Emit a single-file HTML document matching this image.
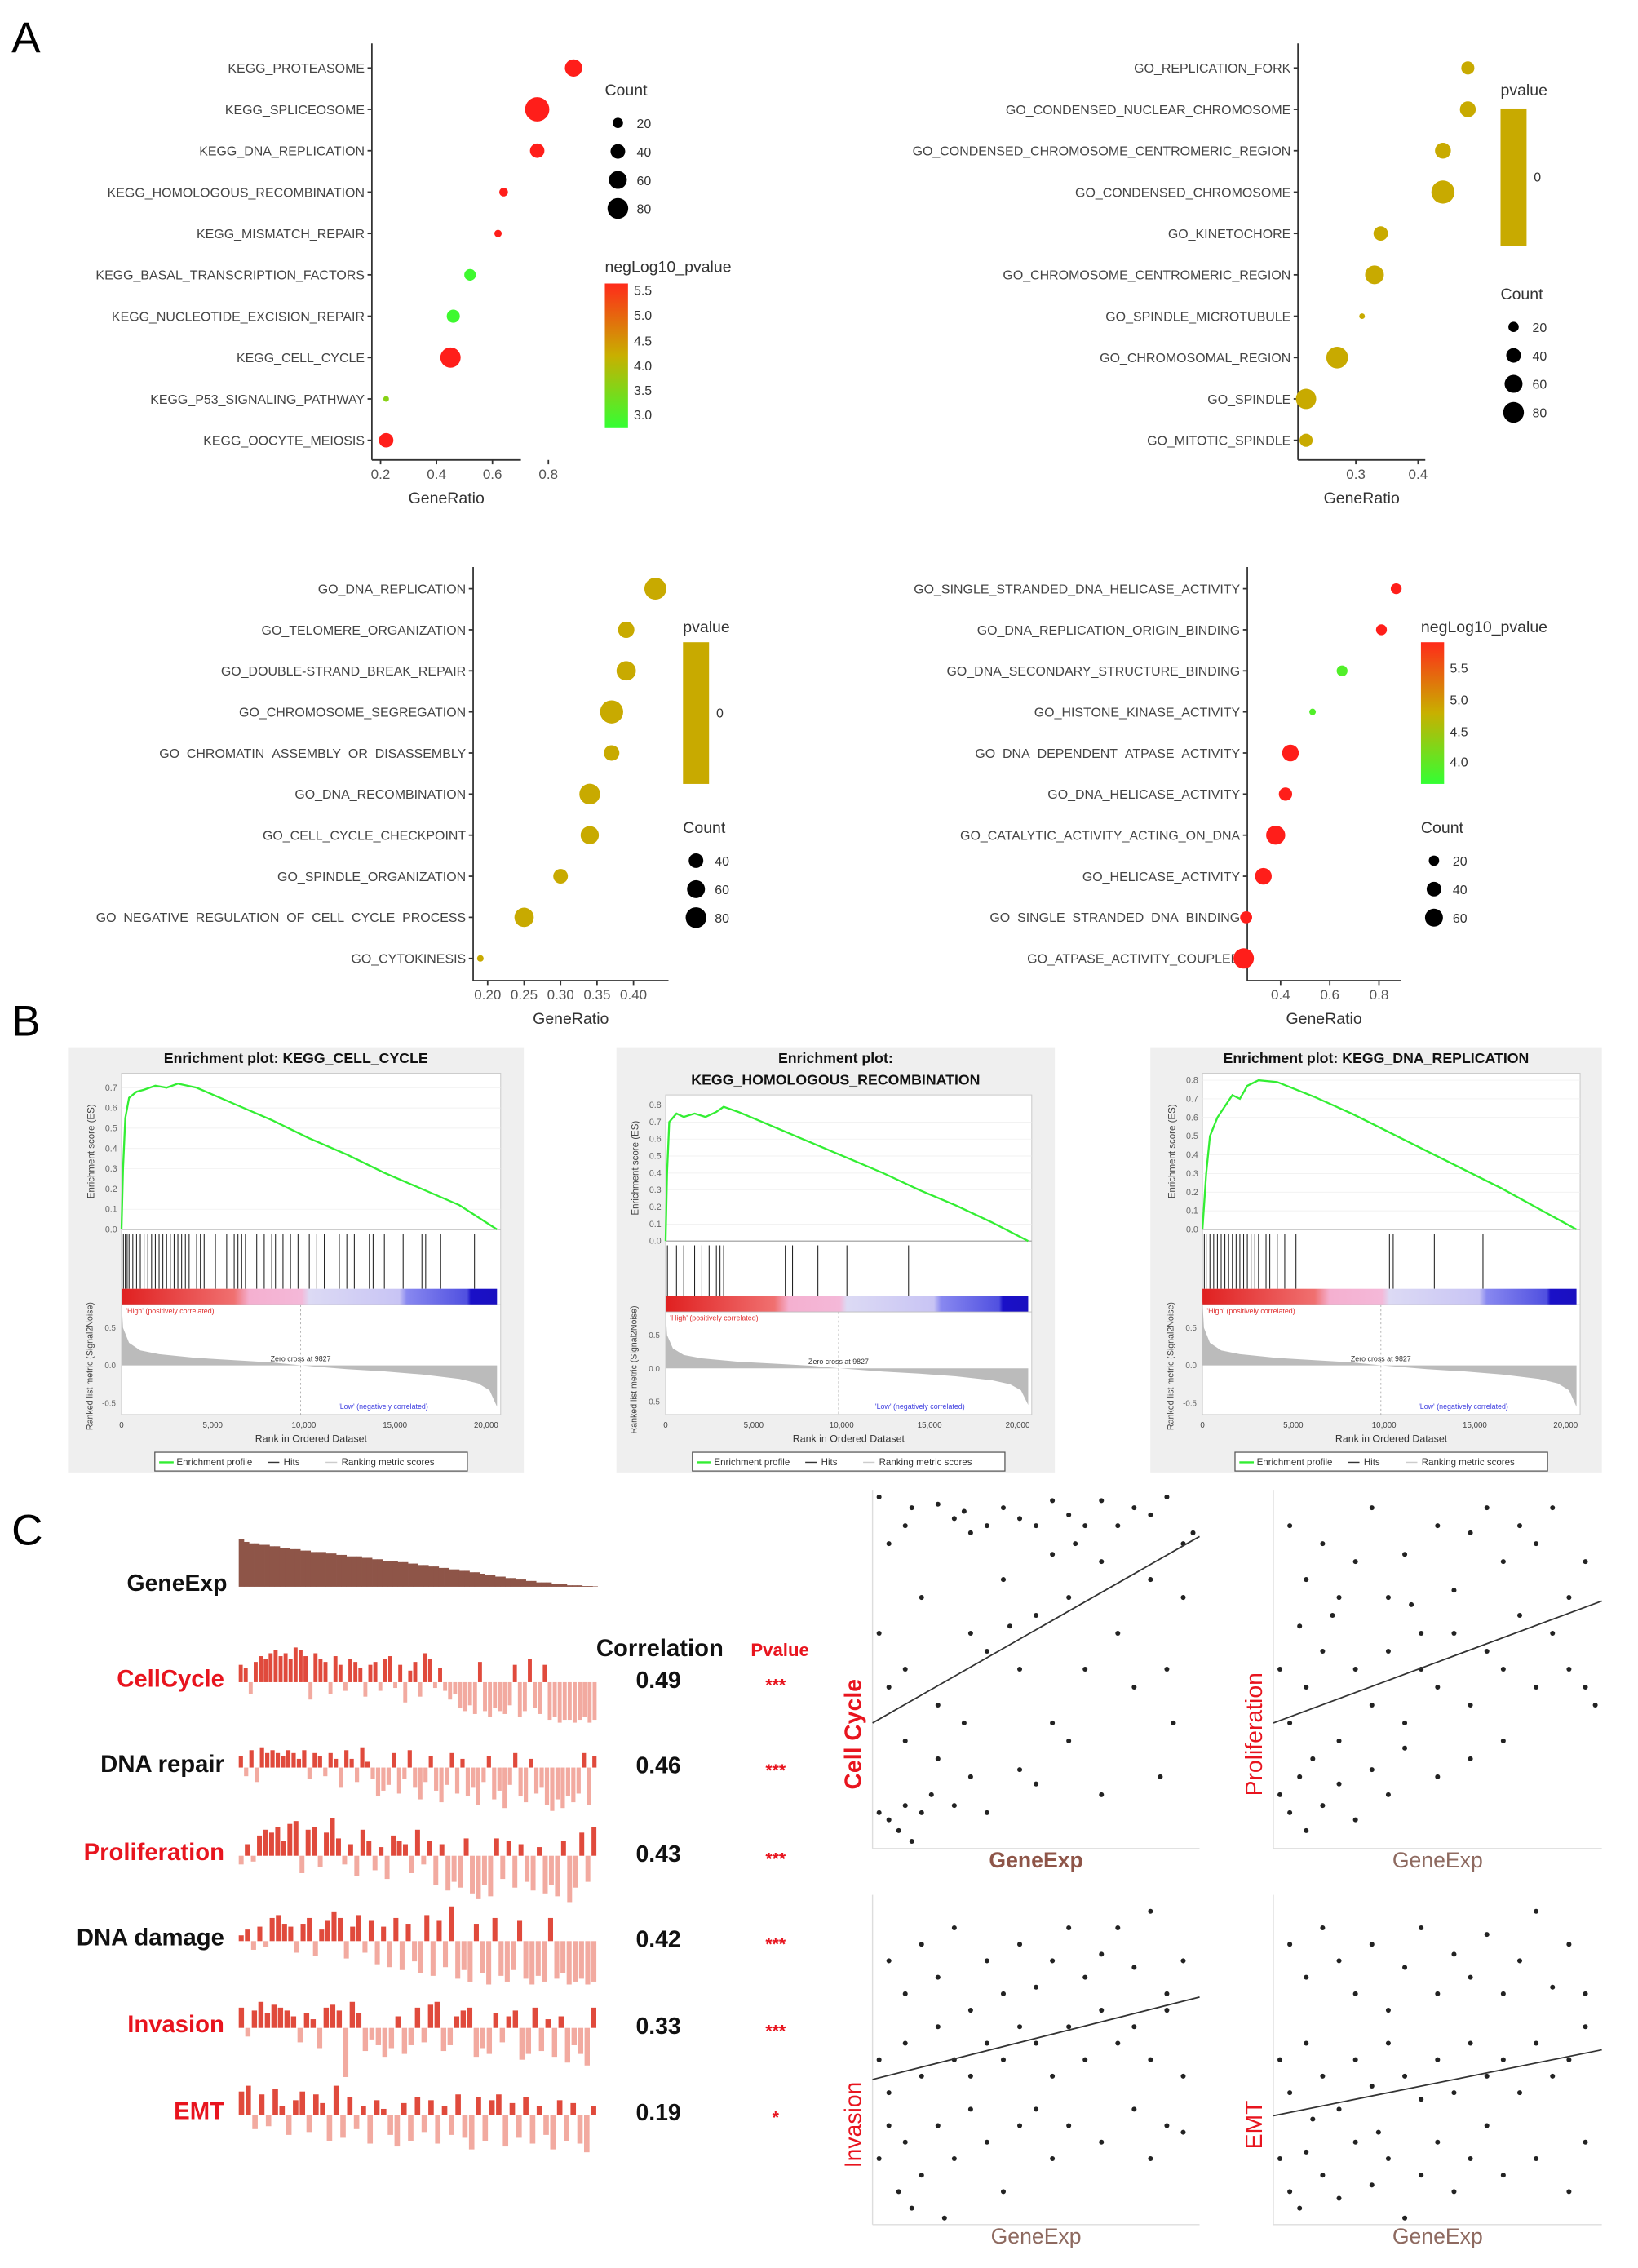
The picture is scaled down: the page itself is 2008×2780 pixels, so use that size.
<!DOCTYPE html>
<html><head><meta charset="utf-8"><style>
html,body{margin:0;padding:0;background:#fff;}
svg{display:block;font-family:"Liberation Sans",Arial,sans-serif;}
</style></head><body>
<svg id="fig" width="2008" height="2780" viewBox="0 0 1132 1568" preserveAspectRatio="none" xmlns="http://www.w3.org/2000/svg">
<defs>
<linearGradient id="gRG" x1="0" y1="0" x2="0" y2="1"><stop offset="0" stop-color="#ff2a1a"/><stop offset="0.5" stop-color="#c8b000"/><stop offset="1" stop-color="#33ff33"/></linearGradient>
<linearGradient id="gRank" x1="0" y1="0" x2="1" y2="0"><stop offset="0" stop-color="#e02020"/><stop offset="0.3" stop-color="#f07070"/><stop offset="0.34" stop-color="#f4b0d0"/><stop offset="0.48" stop-color="#f4b8d8"/><stop offset="0.5" stop-color="#dcdaf4"/><stop offset="0.74" stop-color="#c8c4f4"/><stop offset="0.76" stop-color="#8888f0"/><stop offset="0.92" stop-color="#5050e0"/><stop offset="0.93" stop-color="#1a10c8"/><stop offset="1" stop-color="#1a10c0"/></linearGradient>
</defs>
<text x="8" y="36" font-size="30">A</text>
<text x="8" y="716" font-size="30">B</text>
<text x="8" y="1068" font-size="30">C</text>
</svg>
<script>
// ===== Panel A data =====
const keggLabels=["KEGG_PROTEASOME","KEGG_SPLICEOSOME","KEGG_DNA_REPLICATION","KEGG_HOMOLOGOUS_RECOMBINATION","KEGG_MISMATCH_REPAIR","KEGG_BASAL_TRANSCRIPTION_FACTORS","KEGG_NUCLEOTIDE_EXCISION_REPAIR","KEGG_CELL_CYCLE","KEGG_P53_SIGNALING_PATHWAY","KEGG_OOCYTE_MEIOSIS"];
const keggRatio=[0.89,0.76,0.76,0.64,0.62,0.52,0.46,0.45,0.22,0.22];
const keggCount=[56,110,39,14,10,25,32,77,6,39];
const keggNlp=[5.6,5.6,5.6,5.6,5.6,2.9,2.9,5.6,3.6,5.6];
const keggTicks=[0.2,0.4,0.6,0.8];

const goccLabels=["GO_REPLICATION_FORK","GO_CONDENSED_NUCLEAR_CHROMOSOME","GO_CONDENSED_CHROMOSOME_CENTROMERIC_REGION","GO_CONDENSED_CHROMOSOME","GO_KINETOCHORE","GO_CHROMOSOME_CENTROMERIC_REGION","GO_SPINDLE_MICROTUBULE","GO_CHROMOSOMAL_REGION","GO_SPINDLE","GO_MITOTIC_SPINDLE"];
const goccRatio=[0.48,0.48,0.44,0.44,0.34,0.33,0.31,0.27,0.22,0.22];
const goccCount=[32,47,47,100,39,66,6,88,77,32];
const goccTicks=[0.3,0.4];

const gobpLabels=["GO_DNA_REPLICATION","GO_TELOMERE_ORGANIZATION","GO_DOUBLE-STRAND_BREAK_REPAIR","GO_CHROMOSOME_SEGREGATION","GO_CHROMATIN_ASSEMBLY_OR_DISASSEMBLY","GO_DNA_RECOMBINATION","GO_CELL_CYCLE_CHECKPOINT","GO_SPINDLE_ORGANIZATION","GO_NEGATIVE_REGULATION_OF_CELL_CYCLE_PROCESS","GO_CYTOKINESIS"];
const gobpRatio=[0.43,0.39,0.39,0.37,0.37,0.34,0.34,0.30,0.25,0.19];
const gobpCount=[90,50,70,100,45,80,62,40,70,8];
const gobpTicks=[0.20,0.25,0.30,0.35,0.40];

const gomfLabels=["GO_SINGLE_STRANDED_DNA_HELICASE_ACTIVITY","GO_DNA_REPLICATION_ORIGIN_BINDING","GO_DNA_SECONDARY_STRUCTURE_BINDING","GO_HISTONE_KINASE_ACTIVITY","GO_DNA_DEPENDENT_ATPASE_ACTIVITY","GO_DNA_HELICASE_ACTIVITY","GO_CATALYTIC_ACTIVITY_ACTING_ON_DNA","GO_HELICASE_ACTIVITY","GO_SINGLE_STRANDED_DNA_BINDING","GO_ATPASE_ACTIVITY_COUPLED"];
const gomfRatio=[0.87,0.81,0.65,0.53,0.44,0.42,0.38,0.33,0.26,0.25];
const gomfCount=[22,22,22,8,52,33,68,52,27,78];
const gomfNlp=[5.7,5.7,3.9,3.9,5.7,5.7,5.7,5.7,5.7,5.7];
const gomfTicks=[0.4,0.6,0.8];

// ===== Panel B data =====
const esCellCycle=[[0,0],[0.004,0.3],[0.01,0.55],[0.02,0.65],[0.04,0.68],[0.06,0.69],[0.09,0.71],[0.12,0.7],[0.15,0.72],[0.2,0.7],[0.25,0.66],[0.3,0.62],[0.4,0.54],[0.5,0.45],[0.6,0.37],[0.7,0.28],[0.8,0.2],[0.9,0.12],[0.95,0.06],[1,0]];
const esHomRec=[[0,0],[0.004,0.4],[0.01,0.7],[0.03,0.75],[0.05,0.73],[0.08,0.75],[0.11,0.73],[0.14,0.76],[0.16,0.79],[0.2,0.76],[0.3,0.67],[0.4,0.58],[0.5,0.49],[0.6,0.4],[0.7,0.3],[0.8,0.21],[0.9,0.11],[1,0]];
const esDnaRep=[[0,0],[0.01,0.3],[0.02,0.5],[0.04,0.6],[0.06,0.66],[0.08,0.72],[0.1,0.7],[0.12,0.77],[0.15,0.8],[0.2,0.79],[0.3,0.71],[0.4,0.62],[0.5,0.52],[0.6,0.42],[0.7,0.32],[0.8,0.22],[0.9,0.11],[1,0]];
const hitsCellCycle=[0.005,0.01,0.015,0.02,0.03,0.04,0.05,0.06,0.07,0.08,0.09,0.1,0.11,0.12,0.13,0.14,0.15,0.16,0.17,0.18,0.2,0.21,0.22,0.25,0.28,0.3,0.31,0.32,0.33,0.36,0.38,0.4,0.41,0.43,0.45,0.47,0.5,0.52,0.54,0.58,0.6,0.62,0.66,0.67,0.7,0.75,0.8,0.81,0.85,0.94];
const hitsHomRec=[0.005,0.03,0.05,0.08,0.1,0.12,0.14,0.15,0.16,0.33,0.35,0.42,0.5,0.67];
const hitsDnaRep=[0.005,0.01,0.02,0.03,0.04,0.05,0.06,0.07,0.08,0.09,0.1,0.11,0.12,0.13,0.14,0.15,0.17,0.18,0.2,0.22,0.25,0.5,0.51,0.62,0.75];
const rankMetric=[[0,0.85],[0.004,0.5],[0.02,0.3],[0.05,0.2],[0.1,0.15],[0.2,0.1],[0.3,0.07],[0.4,0.04],[0.48,0],[0.6,-0.05],[0.7,-0.08],[0.8,-0.12],[0.9,-0.18],[0.95,-0.24],[0.98,-0.33],[1,-0.55]];
const rankTicks=["0","5,000","10,000","15,000","20,000"];
const rankTickVals=[0,5000,10000,15000,20000];

// ===== Panel C data =====
const geneExp=[33,31,30,30,29,29,28,28,27,27,26,26,25,25,24,24,24,23,23,22,22,21,21,21,20,20,19,19,18,18,18,17,17,16,16,15,15,14,14,13,13,12,12,11,11,10,10,9,8,8,7,7,6,6,5,5,4,4,3,3,3,2,2,2,1,1,1,0.5,0.5,0.3];
const rowNames=["CellCycle","DNA repair","Proliferation","DNA damage","Invasion","EMT"];
const rowCorr=["0.49","0.46","0.43","0.42","0.33","0.19"];
const rowStars=["***","***","***","***","***","*"];
const barsCellCycle=[12,10,-8,14,18,16,20,22,18,20,16,24,22,18,-12,20,16,14,-8,18,12,-6,16,14,10,-10,12,14,-6,16,18,-4,12,-14,8,14,-10,20,16,-4,10,-6,-12,-8,-18,-20,-16,-22,14,-20,-24,-18,-20,-22,-16,12,-24,-20,16,-18,-22,12,-26,-24,-28,-26,-26,-28,-26,-24,-28,-26];
const barsDnaRepair=[8,-6,12,-10,14,10,12,10,8,12,10,6,12,-8,10,8,-6,10,6,-14,12,6,-10,14,4,-8,-20,-16,-12,10,-18,-8,12,-14,-22,-10,8,-16,-24,-12,10,-18,6,-20,-14,-26,-10,8,-22,-16,-28,-12,10,-20,-24,6,-18,-14,-26,-30,-22,-28,-20,-24,-18,10,-26,8];
const barsProlif=[-6,8,-4,14,18,16,20,10,22,24,-12,18,20,-8,16,26,12,-6,8,-14,18,10,-10,6,-16,14,10,8,-12,18,-6,10,-20,8,-24,-18,-22,12,-26,-30,-20,-28,12,-16,10,-22,8,-18,-24,6,-26,-20,-28,10,-32,-22,16,-18,20];
const barsDnaDamage=[4,8,-6,10,-4,16,18,12,10,-8,12,16,-10,8,14,20,16,-12,10,18,-8,14,-16,10,-18,16,-20,12,-14,-22,18,-24,14,-18,24,-26,-20,-28,12,-22,-30,16,-24,-28,-20,14,-26,-30,-24,-28,16,-26,-22,-30,-28,-26,-30,-28];
const barsInvasion=[14,-6,12,18,10,16,14,12,8,-10,10,6,-14,14,16,12,-34,18,10,-16,-8,-12,-20,-14,8,-18,-12,14,-10,16,18,-16,-12,8,12,14,-20,-14,-18,10,-10,8,12,-22,-18,14,-16,6,-20,8,-24,-12,-18,-26,14];
const barsEmt=[16,20,-10,14,-8,18,6,-14,10,16,-12,14,8,-18,20,-16,12,-10,6,-20,10,4,-14,-22,8,-18,12,-12,10,-20,6,-14,14,-16,-24,12,-18,10,14,-22,8,-16,12,-20,6,-14,-24,10,-18,8,-20,-26,6];

const scCellCycle=[[.02,.98],[.05,.85],[.1,.9],[.12,.95],[.2,.96],[.25,.92],[.28,.94],[.3,.88],[.35,.9],[.4,.95],[.45,.92],[.5,.9],[.55,.97],[.6,.93],[.62,.85],[.65,.9],[.7,.97],[.75,.9],[.8,.95],[.85,.93],[.9,.98],[.95,.85],[.98,.88],[.02,.6],[.05,.45],[.1,.5],[.15,.7],[.2,.4],[.3,.6],[.35,.55],[.4,.75],[.45,.5],[.5,.65],[.55,.35],[.6,.7],[.65,.5],[.7,.8],[.75,.6],[.8,.45],[.85,.75],[.9,.5],[.95,.7],[.02,.1],[.05,.08],[.08,.05],[.1,.12],[.12,.02],[.15,.1],[.18,.15],[.25,.12],[.3,.2],[.35,.1],[.45,.22],[.5,.18],[.6,.3],[.7,.15],[.1,.3],[.2,.25],[.28,.35],[.88,.2],[.92,.35],[.55,.82],[.42,.62]];
const scProlif=[[.05,.9],[.1,.75],[.15,.85],[.2,.7],[.25,.8],[.3,.95],[.35,.7],[.4,.82],[.45,.6],[.5,.9],[.55,.72],[.6,.88],[.65,.95],[.7,.8],[.75,.9],[.8,.85],[.85,.95],[.9,.7],[.95,.8],[.02,.5],[.05,.35],[.1,.45],[.15,.55],[.2,.3],[.25,.5],[.3,.4],[.35,.55],[.4,.35],[.45,.5],[.5,.45],[.55,.6],[.6,.4],[.65,.55],[.7,.5],[.75,.65],[.8,.45],[.85,.6],[.9,.5],[.95,.45],[.98,.4],[.02,.15],[.05,.1],[.08,.2],[.1,.05],[.12,.25],[.15,.12],[.2,.18],[.25,.08],[.3,.22],[.35,.15],[.4,.28],[.5,.2],[.6,.25],[.7,.3],[.08,.62],[.18,.65],[.42,.68]];
const scInvasion=[[.05,.8],[.1,.7],[.15,.85],[.2,.75],[.25,.9],[.3,.65],[.35,.8],[.4,.7],[.45,.85],[.5,.72],[.55,.8],[.6,.9],[.65,.75],[.7,.82],[.75,.9],[.8,.78],[.85,.95],[.9,.7],[.95,.8],[.02,.5],[.05,.4],[.1,.55],[.15,.45],[.2,.6],[.25,.5],[.3,.45],[.35,.55],[.4,.5],[.45,.6],[.5,.55],[.55,.45],[.6,.6],[.65,.5],[.7,.65],[.75,.55],[.8,.6],[.85,.5],[.9,.65],[.95,.45],[.02,.2],[.05,.3],[.08,.1],[.1,.25],[.15,.15],[.2,.3],[.25,.2],[.3,.35],[.35,.25],[.4,.1],[.45,.3],[.5,.35],[.55,.2],[.6,.3],[.7,.25],[.8,.35],[.85,.2],[.9,.3],[.95,.28],[.12,.05],[.22,.02]];
const scEmt=[[.05,.85],[.1,.75],[.15,.9],[.2,.8],[.25,.7],[.3,.85],[.35,.65],[.4,.78],[.45,.9],[.5,.7],[.55,.82],[.6,.75],[.65,.88],[.7,.7],[.75,.8],[.8,.95],[.85,.72],[.9,.85],[.95,.7],[.02,.5],[.05,.4],[.1,.55],[.15,.45],[.2,.35],[.25,.5],[.3,.42],[.35,.55],[.4,.45],[.45,.38],[.5,.5],[.55,.4],[.6,.55],[.65,.45],[.7,.5],[.75,.4],[.8,.55],[.85,.45],[.9,.5],[.95,.6],[.02,.2],[.05,.1],[.08,.05],[.1,.22],[.15,.15],[.2,.08],[.25,.25],[.3,.12],[.35,.2],[.4,.02],[.45,.15],[.5,.25],[.55,.1],[.6,.2],[.65,.3],[.7,.15],[.8,.2],[.9,.1],[.95,.25],[.12,.32],[.32,.28]];
const scIntercept=[0.35,0.35,0.44,0.33];
const scSlope=[0.52,0.34,0.25,0.2];

// ===== helpers =====
const NS="http://www.w3.org/2000/svg";
const svg=document.getElementById('fig');
function mk(parent,tag,attrs,text){const el=document.createElementNS(NS,tag);for(const k in attrs)el.setAttribute(k,attrs[k]);if(text!==undefined)el.textContent=text;parent.appendChild(el);return el;}
function lerp(a,b,t){return a+(b-a)*t;}
function mix(c1,c2,t){return 'rgb('+[0,1,2].map(i=>Math.round(lerp(c1[i],c2[i],t))).join(',')+')';}
function nlpColor(v,lo,hi){let t=Math.max(0,Math.min(1,(v-lo)/(hi-lo)));const g=[51,255,51],y=[200,176,0],r=[255,30,26];return t<0.5?mix(g,y,t*2):mix(y,r,(t-0.5)*2);}

// ===== dot plots =====
function dotPlot(name,labels,ratios,counts,colors,cfg){
  const grp=mk(svg,'g',{});
  
  
  const xs=v=>cfg.x0+(v-cfg.xmin)*cfg.pxPer;
  const ys=i=>cfg.y0+i*cfg.dy;
  let l=mk(grp,'line',{x1:cfg.ax,y1:cfg.top,x2:cfg.ax,y2:cfg.bot,stroke:'#333','stroke-width':1});
  
  
  l=mk(grp,'line',{x1:cfg.ax,y1:cfg.bot,x2:cfg.right,y2:cfg.bot,stroke:'#333','stroke-width':1});
  
  
  labels.forEach((lab,i)=>{
    const t=mk(grp,'text',{x:cfg.ax-5,y:ys(i)+3.3,'font-size':9,fill:'#444','text-anchor':'end'},lab);
    
    
    mk(grp,'line',{x1:cfg.ax-3,y1:ys(i),x2:cfg.ax,y2:ys(i),stroke:'#333'});
  });
  cfg.ticks.forEach(tv=>{
    mk(grp,'line',{x1:xs(tv),y1:cfg.bot,x2:xs(tv),y2:cfg.bot+3,stroke:'#333'});
    const t=mk(grp,'text',{x:xs(tv),y:cfg.bot+13,'font-size':9.6,fill:'#555','text-anchor':'middle'},cfg.fmt(tv));
    
    
  });
  const xt=mk(grp,'text',{x:(cfg.ax+cfg.right)/2,y:cfg.bot+30,'font-size':11,fill:'#333','text-anchor':'middle'},'GeneRatio');
  
  
  ratios.forEach((r,i)=>{
    const c=mk(grp,'circle',{cx:xs(r),cy:ys(i),r:0.8*Math.sqrt(counts[i]),fill:colors[i]});
    
    
  });
}
function countLegend(x,y,vals){
  const g=mk(svg,'g',{});
  
  
  mk(g,'text',{x:x,y:y,'font-size':11,fill:'#333'},'Count');
  vals.forEach((v,i)=>{
    mk(g,'circle',{cx:x+9,cy:y+19+i*19.7,r:0.8*Math.sqrt(v),fill:'#000'});
    mk(g,'text',{x:x+22,y:y+22.5+i*19.7,'font-size':9,fill:'#333'},String(v));
  });
}
function nlpLegend(x,y,labels,yTop,yBot){
  const g=mk(svg,'g',{});
  
  
  mk(g,'text',{x:x,y:y,'font-size':11,fill:'#333'},'negLog10_pvalue');
  mk(g,'rect',{x:x,y:yTop,width:16,height:yBot-yTop,fill:'url(#gRG)'});
  labels.forEach(l=>mk(g,'text',{x:x+20,y:l[1]+3,'font-size':9,fill:'#333'},l[0]));
}
function pvalLegend(x,y,yTop,yBot){
  const g=mk(svg,'g',{});
  
  
  mk(g,'text',{x:x,y:y,'font-size':11,fill:'#333'},'pvalue');
  mk(g,'rect',{x:x,y:yTop,width:18,height:yBot-yTop,fill:'#c8aa00'});
  mk(g,'text',{x:x+23,y:(yTop+yBot)/2+3,'font-size':9,fill:'#333'},'0');
}
const olive=ratios=>ratios.map(()=> '#c8aa00');
dotPlot('kegg-dot-plot',keggLabels,keggRatio,keggCount,keggNlp.map(v=>nlpColor(v,2.8,5.6)),{ax:257,top:30,bot:318,right:360,x0:263,xmin:0.2,pxPer:193.3,y0:47,dy:28.6,ticks:keggTicks,fmt:v=>v.toFixed(1)});
countLegend(418,66,[20,40,60,80]);
nlpLegend(418,188,[["5.5",201],["5.0",218],["4.5",236],["4.0",253],["3.5",270],["3.0",287]],196,296);
dotPlot('go-cc-dot-plot',goccLabels,goccRatio,goccCount,olive(goccRatio),{ax:897,top:30,bot:318,right:985,x0:937,xmin:0.3,pxPer:430,y0:47,dy:28.6,ticks:goccTicks,fmt:v=>v.toFixed(1)});
pvalLegend(1037,66,75,170);
countLegend(1037,207,[20,40,60,80]);
dotPlot('go-bp-dot-plot',gobpLabels,gobpRatio,gobpCount,olive(gobpRatio),{ax:327,top:392,bot:678,right:462,x0:337,xmin:0.2,pxPer:504,y0:407,dy:28.4,ticks:gobpTicks,fmt:v=>v.toFixed(2)});
pvalLegend(472,437,444,542);
countLegend(472,576,[40,60,80]);
dotPlot('go-mf-dot-plot',gomfLabels,gomfRatio,gomfCount,gomfNlp.map(v=>nlpColor(v,3.7,5.7)),{ax:862,top:392,bot:678,right:968,x0:885,xmin:0.4,pxPer:170,y0:407,dy:28.4,ticks:gomfTicks,fmt:v=>v.toFixed(1)});
nlpLegend(982,437,[["5.5",462],["5.0",484],["4.5",506],["4.0",527]],444,542);
countLegend(982,576,[20,40,60]);

// ===== GSEA =====
function gsea(name,titles,es,hits,cfg){
  const g=mk(svg,'g',{'font-family':'Liberation Sans'});
  
  
  mk(g,'rect',{x:cfg.bx,y:724,width:cfg.bw,height:294,fill:'#efefef'});
  mk(g,'rect',{x:cfg.px0,y:cfg.esTop,width:cfg.px1-cfg.px0,height:978-cfg.esTop,fill:'#fff',stroke:'#ccc','stroke-width':0.6});
  titles.forEach((t,i)=>{const tt=mk(g,'text',{x:(cfg.bx+cfg.bw/2),y:735+i*15,'font-size':10,'font-weight':'bold','text-anchor':'middle',fill:'#111'},t);
    
    });
  const W=cfg.px1-cfg.px0, maxRank=20800;
  const xr=r=>cfg.px0+r/maxRank*W;
  const xf=f=>cfg.px0+f*(20600/maxRank)*W;
  const ye=v=>cfg.esZero-v*cfg.esPer;
  for(let k=0;k<=cfg.esMax;k++){
    const v=k/10;
    mk(g,'text',{x:cfg.px0-3,y:ye(v)+2,'font-size':6,fill:'#666','text-anchor':'end'},v.toFixed(1));
    mk(g,'line',{x1:cfg.px0,y1:ye(v),x2:cfg.px1,y2:ye(v),stroke:'#eee','stroke-width':0.4});
  }
  mk(g,'line',{x1:cfg.px0,y1:cfg.esZero,x2:cfg.px1,y2:cfg.esZero,stroke:'#999','stroke-width':0.6});
  const yl=mk(g,'text',{x:0,y:0,'font-size':6.5,fill:'#444','text-anchor':'middle',transform:`translate(${cfg.px0-19},${(cfg.esTop+cfg.esZero)/2}) rotate(-90)`},'Enrichment score (ES)');
  
  
  const p=mk(g,'polyline',{points:es.map(d=>xf(d[0])+','+ye(d[1])).join(' '),fill:'none',stroke:'#33ee33','stroke-width':1.3});
  
  
  hits.forEach(h=>{const hl=mk(g,'line',{x1:xf(h),y1:cfg.esZero+3,x2:xf(h),y2:cfg.cb0,stroke:'#222','stroke-width':0.6});
    
    });
  mk(g,'rect',{x:cfg.px0,y:cfg.cb0,width:xf(1)-cfg.px0,height:cfg.cb1-cfg.cb0,fill:'url(#gRank)'});
  mk(g,'line',{x1:cfg.px0,y1:cfg.cb1,x2:cfg.px1,y2:cfg.cb1,stroke:'#bbb','stroke-width':0.5});
  mk(g,'text',{x:cfg.px0+3,y:cfg.cb1+6,'font-size':5,fill:'#e03030'},"'High' (positively correlated)");
  const ym=v=>cfg.mZero-v*cfg.mPer;
  [[0.5,'0.5'],[0,'0.0'],[-0.5,'-0.5']].forEach(d=>mk(g,'text',{x:cfg.px0-4,y:ym(d[0])+2,'font-size':5.5,fill:'#666','text-anchor':'end'},d[1]));
  const area=mk(g,'polygon',{points:[cfg.px0+','+ym(0)].concat(rankMetric.map(d=>xf(d[0])+','+ym(d[1]))).concat([xf(1)+','+ym(0)]).join(' '),fill:'#bbb'});
  
  
  const zx=xr(9827);
  mk(g,'line',{x1:zx,y1:cfg.cb1,x2:zx,y2:978,stroke:'#aaa','stroke-width':0.5,'stroke-dasharray':'1.5,1.5'});
  mk(g,'text',{x:zx,y:cfg.mZero-3,'font-size':5,fill:'#333','text-anchor':'middle'},'Zero cross at 9827');
  mk(g,'text',{x:zx+W*0.1,y:974,'font-size':5,fill:'#4040e0'},"'Low' (negatively correlated)");
  const ml=mk(g,'text',{x:0,y:0,'font-size':6,fill:'#444','text-anchor':'middle',transform:`translate(${cfg.px0-20},${(cfg.cb0+978)/2+10}) rotate(-90)`},'Ranked list metric (Signal2Noise)');
  
  
  rankTickVals.forEach((r,i)=>{const t=mk(g,'text',{x:xr(r),y:987,'font-size':5.5,fill:'#444','text-anchor':'middle'},rankTicks[i]);
    
    });
  const rt=mk(g,'text',{x:(cfg.px0+cfg.px1)/2,y:997,'font-size':7,fill:'#333','text-anchor':'middle'},'Rank in Ordered Dataset');
  
  
  const lx=(cfg.px0+cfg.px1)/2-108;
  const lg=mk(g,'g',{});
  
  
  mk(lg,'rect',{x:lx,y:1004,width:216,height:13,fill:'#fff',stroke:'#555','stroke-width':0.7});
  mk(lg,'line',{x1:lx+3,y1:1011,x2:lx+13,y2:1011,stroke:'#33ee33','stroke-width':1.3});
  mk(lg,'text',{x:lx+15,y:1013,'font-size':6.5,fill:'#333'},'Enrichment profile');
  mk(lg,'line',{x1:lx+78,y1:1011,x2:lx+86,y2:1011,stroke:'#333','stroke-width':0.8});
  mk(lg,'text',{x:lx+89,y:1013,'font-size':6.5,fill:'#333'},'Hits');
  mk(lg,'line',{x1:lx+118,y1:1011,x2:lx+126,y2:1011,stroke:'#ccc','stroke-width':0.8});
  mk(lg,'text',{x:lx+129,y:1013,'font-size':6.5,fill:'#333'},'Ranking metric scores');
}
gsea('gsea-kegg-cell-cycle',['Enrichment plot: KEGG_CELL_CYCLE'],esCellCycle,hitsCellCycle,{bx:47,bw:315,px0:84,px1:346,esTop:742,esZero:850,esPer:140,esMax:7,cb0:891,cb1:902,mZero:944,mPer:52});
gsea('gsea-kegg-homologous-recombination',['Enrichment plot:','KEGG_HOMOLOGOUS_RECOMBINATION'],esHomRec,hitsHomRec,{bx:426,bw:303,px0:460,px1:713,esTop:757,esZero:858,esPer:117.5,esMax:8,cb0:896,cb1:907,mZero:946,mPer:46});
gsea('gsea-kegg-dna-replication',['Enrichment plot: KEGG_DNA_REPLICATION'],esDnaRep,hitsDnaRep,{bx:795,bw:312,px0:831,px1:1092,esTop:742,esZero:850,esPer:129,esMax:8,cb0:891,cb1:902,mZero:944,mPer:52});

// ===== Panel C: bar rows =====
const bx0=165,bx1=413;
(function(){
  const g=mk(svg,'g',{});
  
  
  const bw=(bx1-bx0)/geneExp.length;
  geneExp.forEach((v,i)=>{const r=mk(g,'rect',{x:bx0+i*bw,y:1097-v,width:bw+0.2,height:v,fill:'#8e5548'});
    
    });
  const t=mk(svg,'text',{x:157,y:1100,'font-size':16,'font-weight':'bold','text-anchor':'end',fill:'#111'},'GeneExp');
  
  
})();
const rowBars=[barsCellCycle,barsDnaRepair,barsProlif,barsDnaDamage,barsInvasion,barsEmt];
const rowBase=[1163,1222,1283,1342,1402,1462];
const rowRed=[true,false,true,false,true,true];
let h=mk(svg,'text',{x:456,y:1145,'font-size':16.5,'font-weight':'bold','text-anchor':'middle',fill:'#111'},'Correlation');


h=mk(svg,'text',{x:539,y:1145,'font-size':12.5,'font-weight':'bold','text-anchor':'middle',fill:'#e8141e'},'Pvalue');


rowBars.forEach((arr,ri)=>{
  const g=mk(svg,'g',{});
  
  
  const base=rowBase[ri], bw=(bx1-bx0)/arr.length;
  arr.forEach((v,i)=>{
    const r=mk(g,'rect',{x:bx0+i*bw,y:v>0?base-v:base,width:Math.max(1,bw*0.8),height:Math.abs(v),fill:v>0?'#e04a3c':'#f2aaa0'});
    
    
  });
  const lab=mk(svg,'text',{x:155,y:base+3,'font-size':16.5,'font-weight':'bold','text-anchor':'end',fill:rowRed[ri]?'#e8141e':'#111'},rowNames[ri]);
  
  
  const c=mk(svg,'text',{x:455,y:base+4,'font-size':16,'font-weight':'bold','text-anchor':'middle',fill:'#111'},rowCorr[ri]);
  
  
  const s=mk(svg,'text',{x:536,y:base+6,'font-size':12,'font-weight':'bold','text-anchor':'middle',fill:'#e8141e'},rowStars[ri]);
  
  
});

// ===== Panel C: scatter plots =====
function scatter(name,pts,k,box,ylab,ybold,xcol,xbold){
  const g=mk(svg,'g',{});
  
  
  const xs=v=>box.x0+v*(box.x1-box.x0), ys=v=>box.y1-v*(box.y1-box.y0);
  mk(g,'line',{x1:box.x0,y1:box.y0,x2:box.x0,y2:box.y1,stroke:'#ddd','stroke-width':0.8});
  mk(g,'line',{x1:box.x0,y1:box.y1,x2:box.x1,y2:box.y1,stroke:'#ddd','stroke-width':0.8});
  pts.forEach(p=>{const c=mk(g,'circle',{cx:xs(p[0]),cy:ys(p[1]),r:1.7,fill:'#222'});
    
    });
  const ln=mk(g,'line',{x1:xs(0),y1:ys(scIntercept[k]),x2:xs(1),y2:ys(scIntercept[k]+scSlope[k]),stroke:'#333','stroke-width':1});
  
  
  const yl=mk(g,'text',{x:0,y:0,'font-size':16,'font-weight':ybold?'bold':'normal',fill:'#e8141e','text-anchor':'middle',transform:`translate(${box.x0-8},${(box.y0+box.y1)/2+45}) rotate(-90)`},ylab);
  
  
  const xl=mk(g,'text',{x:(box.x0+box.x1)/2,y:box.y1+13,'font-size':15,'font-weight':xbold?'bold':'normal',fill:xcol,'text-anchor':'middle'},'GeneExp');
  
  
}
scatter('scatter-cell-cycle',scCellCycle,0,{x0:603,x1:829,y0:1030,y1:1278},'Cell Cycle',true,'#8e5548',true);
scatter('scatter-proliferation',scProlif,1,{x0:880,x1:1107,y0:1030,y1:1278},'Proliferation',false,'#8e6a60',false);
scatter('scatter-invasion',scInvasion,2,{x0:603,x1:829,y0:1310,y1:1538},'Invasion',false,'#8e6a60',false);
scatter('scatter-emt',scEmt,3,{x0:880,x1:1107,y0:1310,y1:1538},'EMT',false,'#8e6a60',false);
</script>
</body></html>
